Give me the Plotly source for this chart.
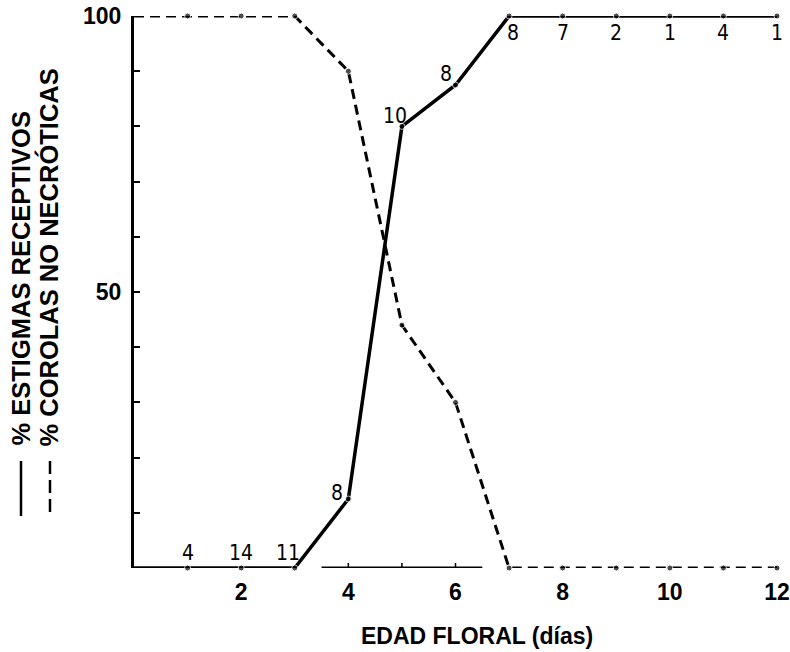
import plotly.graph_objects as go

# ---- data ----
dias = [0, 1, 2, 3, 4, 5, 6, 7, 8, 9, 10, 11, 12]
estigmas_receptivos = [0, 0, 0, 0, 12.5, 80, 87.5, 100, 100, 100, 100, 100, 100]
corolas_no_necroticas = [100, 100, 100, 100, 90, 44, 30, 0, 0, 0, 0, 0, 0]
n_flores = [None, 4, 14, 11, 8, 10, 8, 8, 7, 2, 1, 4, 1]
x_ticks = [2, 4, 6, 8, 10, 12]
y_ticks = [0, 10, 20, 30, 40, 50, 60, 70, 80, 90, 100]
y_ticklabels = ["" if v not in (50, 100) else str(v) for v in y_ticks]

# ---- style ----
BOLD = "Liberation Sans, Arial, Helvetica, sans-serif"
NARROW = "Liberation Sans Narrow, DejaVu Sans Condensed, Arial Narrow, sans-serif"
marker_sizes = [0] + [6] * (len(dias) - 1)

W, H = 790, 652
# plot box on screen: x 134..777, y 16..568
L, T = 134, 16
R = W - 777
B = H - 568
PW, PH = W - L - R, H - T - B


def px_x(p):
    return (p - L) / PW


def px_y(p):
    return (H - B - p) / PH


fig = go.Figure()
fig.add_trace(go.Scatter(
    x=dias, y=corolas_no_necroticas, mode="lines+markers",
    line=dict(color="black", width=3, dash="10px,6px"),
    marker=dict(color="black", size=marker_sizes),
    cliponaxis=False, showlegend=False, hoverinfo="skip"))
fig.add_trace(go.Scatter(
    x=dias, y=estigmas_receptivos, mode="lines+markers",
    line=dict(color="black", width=3.5),
    marker=dict(color="black", size=marker_sizes),
    cliponaxis=False, showlegend=False, hoverinfo="skip"))


def label_offset(d):
    if d <= 3:
        return (-7 if d == 3 else 0), 15
    if d == 4:
        return -11, 6
    if d == 5:
        return -7, 10
    if d == 6:
        return -10, 11
    return (4 if d == 7 else 0), -17


for d, v, n in zip(dias, estigmas_receptivos, n_flores):
    if n is None:
        continue
    dx, dy = label_offset(d)
    fig.add_annotation(x=d, y=v, text=str(n), showarrow=False,
                       xshift=dx, yshift=dy,
                       font=dict(family=NARROW, size=21, color="black"))

shapes = [dict(type="line", xref="x", yref="y", x0=3.5, x1=6.5, y0=0, y1=0,
               line=dict(color="black", width=3))]
for t in (4, 5, 6):
    shapes.append(dict(type="line", xref="x", yref="y", x0=t, x1=t, y0=0, y1=0.9,
                       line=dict(color="black", width=1.5)))

shapes.append(dict(type="line", xref="paper", yref="paper",
                   x0=px_x(21), x1=px_x(21), y0=px_y(461), y1=px_y(516),
                   line=dict(color="black", width=2.5)))
shapes.append(dict(type="line", xref="paper", yref="paper",
                   x0=px_x(50), x1=px_x(50), y0=px_y(461), y1=px_y(516),
                   line=dict(color="black", width=2.5, dash="13px,6px")))

fig.add_annotation(xref="paper", yref="paper", x=px_x(21), y=px_y(278.5),
                   xanchor="center", yanchor="middle", borderpad=0,
                   text="% ESTIGMAS RECEPTIVOS", textangle=-90, showarrow=False,
                   font=dict(family=BOLD, size=25.5, color="black", weight="bold"))
fig.add_annotation(xref="paper", yref="paper", x=px_x(48), y=px_y(257.5),
                   xanchor="center", yanchor="middle", borderpad=0,
                   text="% COROLAS NO NECRÓTICAS", textangle=-90, showarrow=False,
                   font=dict(family=BOLD, size=25.5, color="black", weight="bold"))

fig.add_annotation(xref="paper", yref="paper", x=px_x(477), y=px_y(636),
                   xanchor="center", yanchor="middle",
                   text="EDAD FLORAL (días)", showarrow=False,
                   font=dict(family=BOLD, size=23, color="black", weight="bold"))

fig.update_layout(
    width=W, height=H,
    margin=dict(l=L, r=R, t=T, b=B, autoexpand=False),
    paper_bgcolor="white", plot_bgcolor="white",
    shapes=shapes,
    hovermode=False,
    xaxis=dict(range=[0, 12], tickvals=x_ticks, showline=False, showgrid=False,
               zeroline=False, ticks="", ticklabelstandoff=8, automargin=False,
               ticklabeloverflow="allow",
               tickfont=dict(family=BOLD, size=23, color="black", weight="bold")),
    yaxis=dict(range=[0, 100], tickvals=y_ticks, ticktext=y_ticklabels,
               showline=True, linecolor="black", linewidth=3, showgrid=False,
               zeroline=False, ticks="inside", ticklen=6, tickwidth=1.5,
               tickcolor="black", ticklabelstandoff=5, automargin=False,
               ticklabeloverflow="allow",
               tickfont=dict(family=BOLD, size=23, color="black", weight="bold")),
)

fig.write_html("out.html", config={"displayModeBar": False},
               post_script="document.body.style.margin='0px';")
